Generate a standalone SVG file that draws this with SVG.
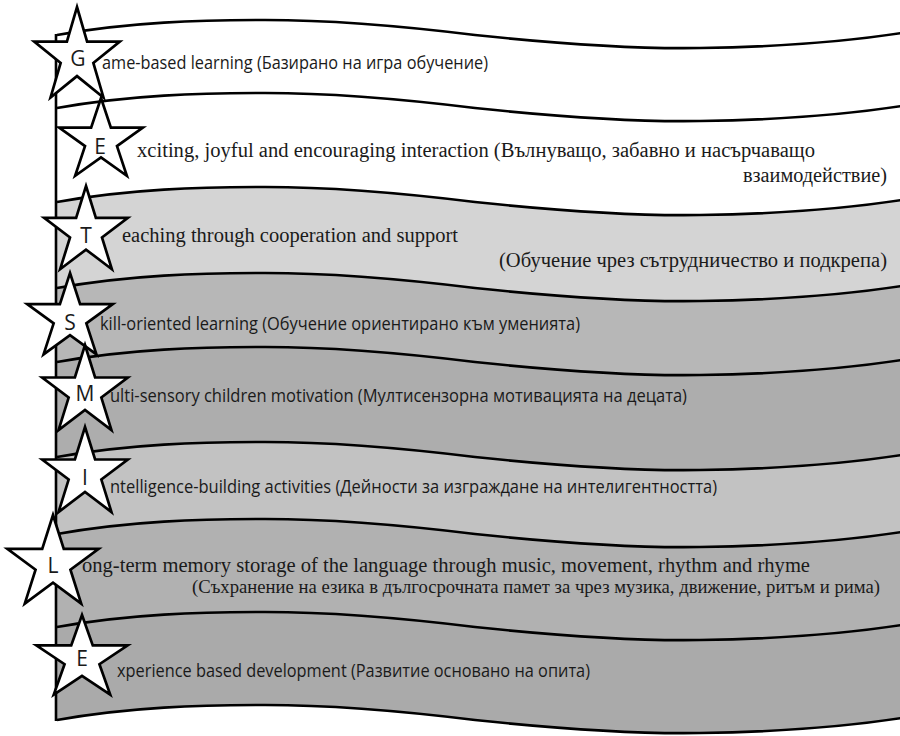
<svg xmlns="http://www.w3.org/2000/svg" xmlns:xlink="http://www.w3.org/1999/xlink" width="900" height="736" viewBox="0 0 900 736">
<style>
.line{fill:none;stroke:#000;stroke-width:2.6}
.star{fill:#fff;stroke:#000;stroke-width:2.7;stroke-linejoin:miter}
.ltr{font-family:"Open Sans","Noto Sans","Liberation Sans",sans-serif;font-size:21px;fill:#1a1a1a;text-anchor:middle}
.sans{font-family:"Open Sans","Noto Sans","Liberation Sans",sans-serif;font-size:18px;fill:#1a1a1a}
.serif{font-family:"Liberation Serif","DejaVu Serif",serif;font-size:20.5px;fill:#1a1a1a}
</style>
<defs>
<path id="wave" d="M57,0 C130,-13 200,-15 265,-15 C340,-15 410,-8 475,0 C560,9 640,14 700,13 C780,12 850,6 902,-2"/>
<path id="star" vector-effect="non-scaling-stroke" d="M0,-1 L0.2245,-0.309 L0.9511,-0.309 L0.3633,0.118 L0.5878,0.809 L0,0.382 L-0.5878,0.809 L-0.3633,0.118 L-0.9511,-0.309 L-0.2245,-0.309 Z"/>
</defs>
<rect width="900" height="736" fill="#fff"/>
<g id="bands">
<path id="band-G" fill="#ffffff" d="M57,35 C130,22 200,20 265,20 C340,20 410,27 475,35 C560,44 640,49 700,48 C780,47 850,41 902,33 L902,106 C850,114 780,120 700,121 C640,122 560,117 475,108 C410,100 340,93 265,93 C200,93 130,95 57,108 Z"/>
<path id="band-E1" fill="#ffffff" d="M57,108 C130,95 200,93 265,93 C340,93 410,100 475,108 C560,117 640,122 700,121 C780,120 850,114 902,106 L902,200 C850,208 780,214 700,215 C640,216 560,211 475,202 C410,194 340,187 265,187 C200,187 130,189 57,202 Z"/>
<path id="band-T" fill="#d4d4d4" d="M57,202 C130,189 200,187 265,187 C340,187 410,194 475,202 C560,211 640,216 700,215 C780,214 850,208 902,200 L902,286 C850,294 780,300 700,301 C640,302 560,297 475,288 C410,280 340,273 265,273 C200,273 130,275 57,288 Z"/>
<path id="band-S" fill="#b7b7b7" d="M57,288 C130,275 200,273 265,273 C340,273 410,280 475,288 C560,297 640,302 700,301 C780,300 850,294 902,286 L902,360 C850,368 780,374 700,375 C640,376 560,371 475,362 C410,354 340,347 265,347 C200,347 130,349 57,362 Z"/>
<path id="band-M" fill="#adadad" d="M57,362 C130,349 200,347 265,347 C340,347 410,354 475,362 C560,371 640,376 700,375 C780,374 850,368 902,360 L902,455 C850,463 780,469 700,470 C640,471 560,466 475,457 C410,449 340,442 265,442 C200,442 130,444 57,457 Z"/>
<path id="band-I" fill="#c2c2c2" d="M57,457 C130,444 200,442 265,442 C340,442 410,449 475,457 C560,466 640,471 700,470 C780,469 850,463 902,455 L902,532 C850,540 780,546 700,547 C640,548 560,543 475,534 C410,526 340,519 265,519 C200,519 130,521 57,534 Z"/>
<path id="band-L" fill="#b1b1b1" d="M57,534 C130,521 200,519 265,519 C340,519 410,526 475,534 C560,543 640,548 700,547 C780,546 850,540 902,532 L902,625 C850,633 780,639 700,640 C640,641 560,636 475,627 C410,619 340,612 265,612 C200,612 130,614 57,627 Z"/>
<path id="band-E2" fill="#aaaaaa" d="M57,627 C130,614 200,612 265,612 C340,612 410,619 475,627 C560,636 640,641 700,640 C780,639 850,633 902,625 L902,718 C850,726 780,732 700,733 C640,734 560,729 475,720 C410,712 340,705 265,705 C200,705 130,707 57,720 Z"/>
</g>
<g id="connectors">
<use href="#wave" class="line" y="35"/>
<use href="#wave" class="line" y="108"/>
<use href="#wave" class="line" y="202"/>
<use href="#wave" class="line" y="288"/>
<use href="#wave" class="line" y="362"/>
<use href="#wave" class="line" y="457"/>
<use href="#wave" class="line" y="534"/>
<use href="#wave" class="line" y="627"/>
<use href="#wave" class="line" y="720"/>
<line class="line" x1="56" y1="34" x2="56" y2="721"/>
</g>
<g id="node-G">
<use href="#star" class="star" transform="translate(77,57) scale(45,50)"/>
<text class="ltr" x="78" y="66">G</text>
<text class="sans" x="102" y="69" textLength="386" lengthAdjust="spacingAndGlyphs">ame-based learning (Базирано на игра обучение)</text>
</g>
<g id="node-E1">
<use href="#star" class="star" transform="translate(101,141) scale(44,43)"/>
<text class="ltr" x="100" y="154">E</text>
<text class="serif" x="137" y="157" textLength="678" lengthAdjust="spacingAndGlyphs">xciting, joyful and encouraging interaction (Вълнуващо, забавно и насърчаващо</text>
<text class="serif" x="743" y="182" textLength="144" lengthAdjust="spacingAndGlyphs">взаимодействие)</text>
</g>
<g id="node-T">
<use href="#star" class="star" transform="translate(86,232) scale(44,46)"/>
<text class="ltr" x="86" y="243">T</text>
<text class="serif" x="122" y="242" textLength="336" lengthAdjust="spacingAndGlyphs">eaching through cooperation and support</text>
<text class="serif" x="499" y="267" textLength="388" lengthAdjust="spacingAndGlyphs">(Обучение чрез сътрудничество и подкрепа)</text>
</g>
<g id="node-S">
<use href="#star" class="star" transform="translate(70,318) scale(45,45)"/>
<text class="ltr" x="70" y="330">S</text>
<text class="sans" x="100" y="330" textLength="480" lengthAdjust="spacingAndGlyphs">kill-oriented learning (Обучение ориентирано към уменията)</text>
</g>
<g id="node-M">
<use href="#star" class="star" transform="translate(85,392) scale(45,47)"/>
<text class="ltr" x="85" y="401">M</text>
<text class="sans" x="110" y="402" textLength="577" lengthAdjust="spacingAndGlyphs">ulti-sensory children motivation (Мултисензорна мотивацията на децата)</text>
</g>
<g id="node-I">
<use href="#star" class="star" transform="translate(85,474) scale(45,47)"/>
<text class="ltr" x="85" y="485">I</text>
<text class="sans" x="110" y="493" textLength="607" lengthAdjust="spacingAndGlyphs">ntelligence-building activities (Дейности за изграждане на интелигентността)</text>
</g>
<g id="node-L">
<use href="#star" class="star" transform="translate(53,564) scale(48,49)"/>
<text class="ltr" x="53" y="573">L</text>
<text class="serif" x="82" y="572" textLength="728" lengthAdjust="spacingAndGlyphs">ong-term memory storage of the language through music, movement, rhythm and rhyme</text>
<text class="serif" x="192" y="593" style="font-size:18.5px" textLength="688" lengthAdjust="spacingAndGlyphs">(Съхранение на езика в дългосрочната памет за чрез музика, движение, ритъм и рима)</text>
</g>
<g id="node-E2">
<use href="#star" class="star" transform="translate(82,659) scale(48,44)"/>
<text class="ltr" x="82" y="666">E</text>
<text class="sans" x="117" y="677" textLength="473" lengthAdjust="spacingAndGlyphs">xperience based development (Развитие основано на опита)</text>
</g>
</svg>
